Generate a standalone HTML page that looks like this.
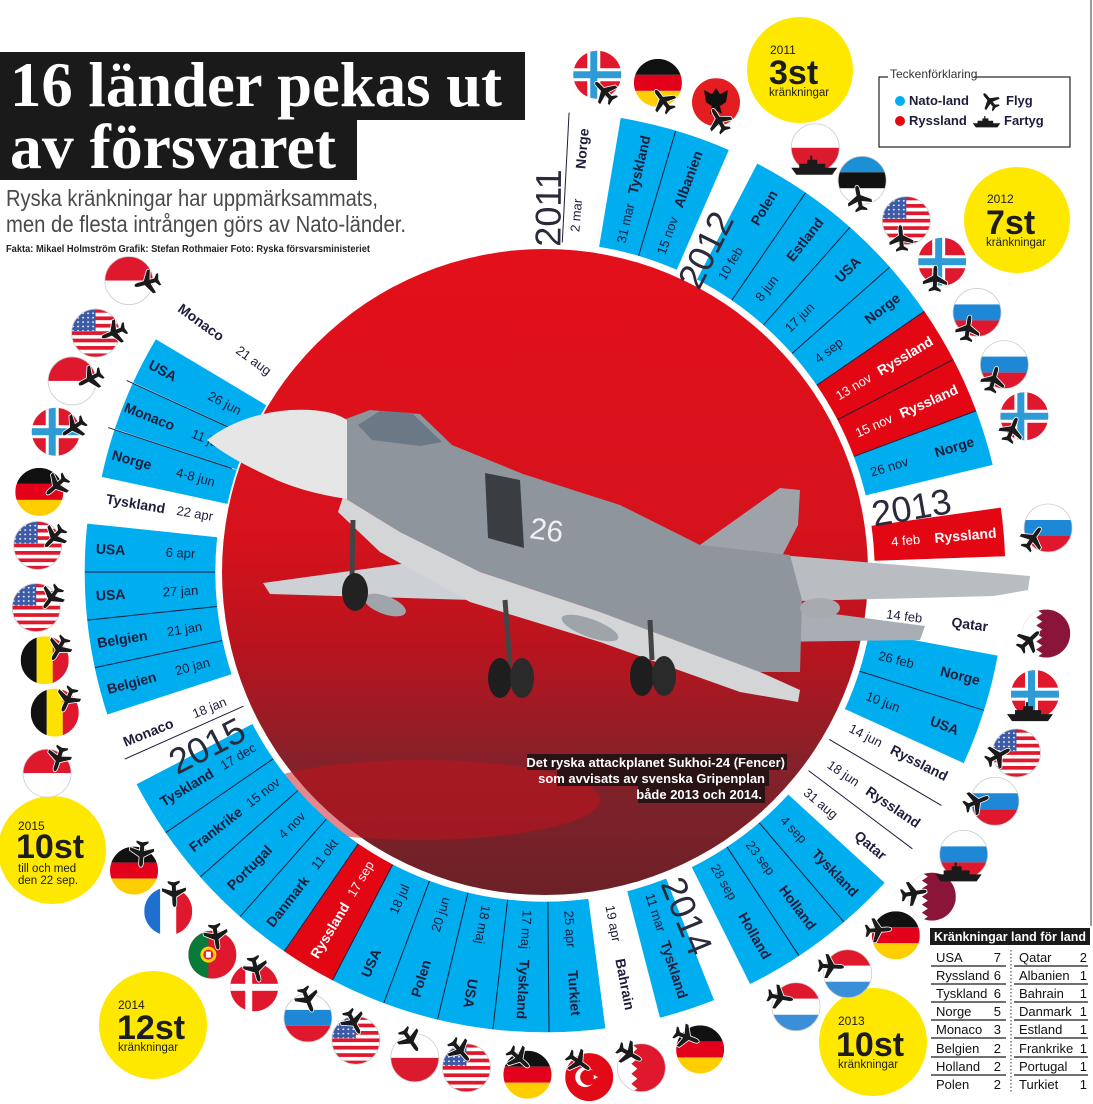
<!DOCTYPE html>
<html><head><meta charset="utf-8">
<style>
html,body{margin:0;padding:0;background:#fff;}
body{width:1093px;height:1104px;overflow:hidden;}
svg{display:block;}
.n{font-family:"Liberation Sans",sans-serif;font-weight:bold;font-size:14px;fill:#1d1d3b;text-anchor:middle;dominant-baseline:central;}
.d{font-family:"Liberation Sans Narrow","Liberation Sans",sans-serif;font-size:13px;fill:#1d1d3b;text-anchor:middle;dominant-baseline:central;}
.w{fill:#fff;}
.b{fill:#00adef;stroke:#00adef;stroke-width:.6;}
.r{fill:#e30613;stroke:#e30613;stroke-width:.6;}
.yr{font-family:"Liberation Sans Narrow","Liberation Sans",sans-serif;font-size:36px;fill:#2a2a3a;text-anchor:middle;dominant-baseline:central;font-weight:normal;}
.nar{font-family:"Liberation Sans Narrow","Liberation Sans",sans-serif;}
</style></head><body>
<svg width="1093" height="1104" viewBox="0 0 1093 1104" xmlns="http://www.w3.org/2000/svg">
<defs>
<clipPath id="fc"><circle r="24"/></clipPath>
<linearGradient id="sky" x1="0" y1="0" x2="0" y2="1">
<stop offset="0" stop-color="#e3101b"/><stop offset="0.45" stop-color="#d5121c"/><stop offset="0.62" stop-color="#b8141e"/><stop offset="0.8" stop-color="#84212a"/><stop offset="1" stop-color="#6c2127"/>
</linearGradient>
<path id="s7" d="M-20.15,-329.38 L-28.08,-459.14 A460,460 0 0 1 28.08,-459.14 L20.15,-329.38 A330,330 0 0 0 -20.15,-329.38Z"/>
<path id="s6" d="M-17.27,-329.55 L-24.07,-459.37 A460,460 0 0 1 24.07,-459.37 L17.27,-329.55 A330,330 0 0 0 -17.27,-329.55Z"/>
<line id="ln" x1="0" y1="-330" x2="0" y2="-460" stroke="#1d1d3b" stroke-width="1"/>
<path id="pl" d="M0,-13 C1.5,-13 2,-11 2,-8 L2,-3 L12,3 L12,6 L2,3 L2,8 L6,11 L6,13 L0,11.5 L-6,13 L-6,11 L-2,8 L-2,3 L-12,6 L-12,3 L-2,-3 L-2,-8 C-2,-11 -1.5,-13 0,-13Z" fill="#1a1a1a" stroke="#fff" stroke-width="1.6" paint-order="stroke"/>
<path id="sh" d="M-22,2 L24,2 L19,9 L-17,9Z M-14,2 L-14,-2 L-6,-2 L-6,-6 L-3,-6 L-3,-10 L-1,-10 L-1,-6 L4,-6 L4,-2 L12,-2 L12,2Z" fill="#1a1a1a"/>
<pattern id="stars" width="5" height="4.4" patternUnits="userSpaceOnUse"><rect width="5" height="4.4" fill="#3c5aa6"/><circle cx="2.5" cy="2.2" r="0.9" fill="#fff"/></pattern>
<g id="fNO"><g clip-path="url(#fc)"><rect x="-24" y="-24" width="48" height="48" fill="#e0182d"/><rect x="-10" y="-24" width="13" height="48" fill="#fff"/><rect x="-24" y="-6.5" width="48" height="13" fill="#fff"/><rect x="-7" y="-24" width="7" height="48" fill="#2f9bd6"/><rect x="-24" y="-3.5" width="48" height="7" fill="#2f9bd6"/></g></g>
<g id="fDE"><g clip-path="url(#fc)"><rect x="-24" y="-24" width="48" height="16" fill="#111"/><rect x="-24" y="-8" width="48" height="16" fill="#e2001a"/><rect x="-24" y="8" width="48" height="16" fill="#ffce00"/></g></g>
<g id="fAL"><g clip-path="url(#fc)"><rect x="-24" y="-24" width="48" height="48" fill="#e41e20"/><path d="M-12,-12 L-4,-8 L0,-14 L4,-8 L12,-12 L10,0 L4,4 L6,12 L0,8 L-6,12 L-4,4 L-10,0Z" fill="#111"/></g></g>
<g id="fPL"><g clip-path="url(#fc)"><rect x="-24" y="-24" width="48" height="24" fill="#fff"/><rect x="-24" y="0" width="48" height="24" fill="#dc1a2e"/></g><circle r="24" fill="none" stroke="#ccc" stroke-width=".8"/></g>
<g id="fEE"><g clip-path="url(#fc)"><rect x="-24" y="-24" width="48" height="16" fill="#1d8fd6"/><rect x="-24" y="-8" width="48" height="16" fill="#111"/><rect x="-24" y="8" width="48" height="16" fill="#fff"/></g><circle r="24" fill="none" stroke="#ccc" stroke-width=".8"/></g>
<g id="fUS"><g clip-path="url(#fc)"><rect x="-24" y="-24" width="48" height="48" fill="#fff"/><rect x="-24" y="-24" width="48" height="3.7" fill="#e0182d"/><rect x="-24" y="-16.6" width="48" height="3.7" fill="#e0182d"/><rect x="-24" y="-9.2" width="48" height="3.7" fill="#e0182d"/><rect x="-24" y="-1.8" width="48" height="3.7" fill="#e0182d"/><rect x="-24" y="5.6" width="48" height="3.7" fill="#e0182d"/><rect x="-24" y="13" width="48" height="3.7" fill="#e0182d"/><rect x="-24" y="20.4" width="48" height="3.7" fill="#e0182d"/><rect x="-24" y="-24" width="24" height="22" fill="url(#stars)"/></g><circle r="24" fill="none" stroke="#ccc" stroke-width=".8"/></g>
<g id="fRU"><g clip-path="url(#fc)"><rect x="-24" y="-24" width="48" height="16" fill="#fff"/><rect x="-24" y="-8" width="48" height="16" fill="#1e88d6"/><rect x="-24" y="8" width="48" height="16" fill="#e0182d"/></g><circle r="24" fill="none" stroke="#ccc" stroke-width=".8"/></g>
<g id="fQA"><g clip-path="url(#fc)"><rect x="-24" y="-24" width="48" height="48" fill="#8a1538"/><polygon points="-24,-24 -10,-24 -4,-20 -10,-16 -4,-12 -10,-8 -4,-4 -10,0 -4,4 -10,8 -4,12 -10,16 -4,20 -10,24 -24,24" fill="#fff"/></g></g>
<g id="fBH"><g clip-path="url(#fc)"><rect x="-24" y="-24" width="48" height="48" fill="#e0182d"/><polygon points="-24,-24 -10,-24 -4,-19 -10,-14 -4,-9 -10,-4 -4,1 -10,6 -4,11 -10,16 -4,21 -10,24 -24,24" fill="#fff"/></g><circle r="24" fill="none" stroke="#ccc" stroke-width=".8"/></g>
<g id="fNL"><g clip-path="url(#fc)"><rect x="-24" y="-24" width="48" height="16" fill="#e0182d"/><rect x="-24" y="-8" width="48" height="16" fill="#fff"/><rect x="-24" y="8" width="48" height="16" fill="#3a8fd8"/></g><circle r="24" fill="none" stroke="#ccc" stroke-width=".8"/></g>
<g id="fTR"><g clip-path="url(#fc)"><rect x="-24" y="-24" width="48" height="48" fill="#e30a17"/><circle cx="-4" cy="0" r="10" fill="#fff"/><circle cx="-1" cy="0" r="8" fill="#e30a17"/><polygon points="9,0 4,2 6,-3 6,3 4,-2" fill="#fff"/></g></g>
<g id="fDK"><g clip-path="url(#fc)"><rect x="-24" y="-24" width="48" height="48" fill="#e0182d"/><rect x="-9" y="-24" width="7" height="48" fill="#fff"/><rect x="-24" y="-3.5" width="48" height="7" fill="#fff"/></g></g>
<g id="fPT"><g clip-path="url(#fc)"><rect x="-24" y="-24" width="48" height="48" fill="#e0182d"/><rect x="-24" y="-24" width="20" height="48" fill="#0a7a3a"/><circle cx="-4" cy="0" r="8" fill="#ffd200"/><circle cx="-4" cy="0" r="5" fill="#e0182d"/><rect x="-6.5" y="-3" width="5" height="6" fill="#fff"/></g></g>
<g id="fFR"><g clip-path="url(#fc)"><rect x="-24" y="-24" width="16" height="48" fill="#1e6fd0"/><rect x="-8" y="-24" width="16" height="48" fill="#fff"/><rect x="8" y="-24" width="16" height="48" fill="#e0182d"/></g></g>
<g id="fMC"><g clip-path="url(#fc)"><rect x="-24" y="-24" width="48" height="24" fill="#e0182d"/><rect x="-24" y="0" width="48" height="24" fill="#fff"/></g><circle r="24" fill="none" stroke="#ccc" stroke-width=".8"/></g>
<g id="fBE"><g clip-path="url(#fc)"><rect x="-24" y="-24" width="16" height="48" fill="#111"/><rect x="-8" y="-24" width="16" height="48" fill="#fde100"/><rect x="8" y="-24" width="16" height="48" fill="#e0182d"/></g></g>
</defs>

<rect width="1093" height="1104" fill="#fff"/>
<line x1="1091" y1="0" x2="1091" y2="926" stroke="#9a9a9a" stroke-width="2"/>

<!-- Title -->
<rect x="0" y="52" width="525" height="68" fill="#1a1a1a"/>
<rect x="0" y="118" width="357" height="62" fill="#1a1a1a"/>
<text x="10" y="106" font-family="Liberation Serif,serif" font-weight="bold" font-size="64" fill="#fff" textLength="492" lengthAdjust="spacingAndGlyphs">16 länder pekas ut</text>
<text x="10" y="168" font-family="Liberation Serif,serif" font-weight="bold" font-size="64" fill="#fff" textLength="326" lengthAdjust="spacingAndGlyphs">av försvaret</text>
<text class="nar" x="6" y="206" font-size="23" fill="#4a4a4a" textLength="372" lengthAdjust="spacingAndGlyphs">Ryska kränkningar har uppmärksammats,</text>
<text class="nar" x="6" y="232" font-size="23" fill="#4a4a4a" textLength="400" lengthAdjust="spacingAndGlyphs">men de flesta intrången görs av Nato-länder.</text>
<text class="nar" x="6" y="252" font-size="10.5" fill="#222" font-weight="bold" textLength="364" lengthAdjust="spacingAndGlyphs">Fakta: Mikael Holmström  Grafik: Stefan Rothmaier Foto: Ryska försvarsministeriet</text>

<!-- Legend -->
<rect x="879" y="77" width="191" height="70" fill="none" stroke="#222" stroke-width="1.2"/>
<rect x="888" y="70" width="86" height="12" fill="#fff"/>
<text class="nar" x="890" y="78" font-size="12" fill="#333">Teckenförklaring</text>
<circle cx="900" cy="101" r="5" fill="#00adef"/>
<text x="909" y="105" font-family="Liberation Sans Narrow,Liberation Sans,sans-serif" font-weight="bold" font-size="13" fill="#1d1d3b">Nato-land</text>
<circle cx="900" cy="121" r="5" fill="#e30613"/>
<text x="909" y="125" font-family="Liberation Sans Narrow,Liberation Sans,sans-serif" font-weight="bold" font-size="13" fill="#1d1d3b">Ryssland</text>
<use href="#pl" transform="translate(990,101) rotate(-40) scale(0.75)"/>
<text x="1006" y="105" font-family="Liberation Sans Narrow,Liberation Sans,sans-serif" font-weight="bold" font-size="13" fill="#1d1d3b">Flyg</text>
<use href="#sh" transform="translate(986,122) scale(0.6)"/>
<text x="1004" y="125" font-family="Liberation Sans Narrow,Liberation Sans,sans-serif" font-weight="bold" font-size="13" fill="#1d1d3b">Fartyg</text>

<!-- Yellow circles -->
<g font-family="Liberation Sans Narrow,Liberation Sans,sans-serif" fill="#1d1d1d">
<circle cx="800" cy="70" r="53" fill="#ffe800"/>
<text x="770" y="54" font-size="12">2011</text>
<text x="769" y="84" font-size="34" font-weight="bold" font-family="Liberation Sans,sans-serif">3st</text>
<text x="769" y="96" font-size="11.5">kränkningar</text>
<circle cx="1017" cy="220" r="53" fill="#ffe800"/>
<text x="987" y="203" font-size="12">2012</text>
<text x="986" y="234" font-size="34" font-weight="bold" font-family="Liberation Sans,sans-serif">7st</text>
<text x="986" y="246" font-size="11.5">kränkningar</text>
<circle cx="52" cy="850" r="54" fill="#ffe800"/>
<text x="18" y="830" font-size="12">2015</text>
<text x="16" y="858" font-size="34" font-weight="bold" font-family="Liberation Sans,sans-serif">10st</text>
<text x="18" y="872" font-size="11.5">till och med</text>
<text x="18" y="884" font-size="11.5">den 22 sep.</text>
<circle cx="153" cy="1025" r="54" fill="#ffe800"/>
<text x="118" y="1009" font-size="12">2014</text>
<text x="117" y="1039" font-size="34" font-weight="bold" font-family="Liberation Sans,sans-serif">12st</text>
<text x="118" y="1051" font-size="11.5">kränkningar</text>
<circle cx="873" cy="1042" r="54" fill="#ffe800"/>
<text x="838" y="1025" font-size="12">2013</text>
<text x="836" y="1056" font-size="34" font-weight="bold" font-family="Liberation Sans,sans-serif">10st</text>
<text x="838" y="1068" font-size="11.5">kränkningar</text>
</g>

<!-- Photo circle -->
<circle cx="545" cy="572" r="323" fill="url(#sky)"/>
<ellipse cx="420" cy="800" rx="180" ry="40" fill="#c8121c" opacity="0.5"/>

<g transform="translate(545,572)">
<!-- 2011 -->
<g transform="rotate(5)"><text class="d" transform="translate(0,-358) rotate(-90)" font-size="11">2 mar</text><text class="n" transform="translate(0,-425) rotate(-90)">Norge</text></g>
<g transform="rotate(13)"><use href="#s7" class="b"/><text class="d" transform="translate(0,-358) rotate(-90)">31 mar</text><text class="n" transform="translate(0,-418) rotate(-90)">Tyskland</text></g>
<g transform="rotate(20)"><use href="#s7" class="b"/><text class="d" transform="translate(0,-358) rotate(-90)">15 nov</text><text class="n" transform="translate(0,-418) rotate(-90)">Albanien</text></g>
<!-- 2012 -->
<g transform="rotate(31)"><use href="#s7" class="b"/><text class="d" transform="translate(0,-360) rotate(-90)">10 feb</text><text class="n" transform="translate(0,-425) rotate(-90)">Polen</text></g>
<g transform="rotate(38)"><use href="#s7" class="b"/><text class="d" transform="translate(0,-360) rotate(-90)">8 jun</text><text class="n" transform="translate(0,-422) rotate(-90)">Estland</text></g>
<g transform="rotate(45)"><use href="#s7" class="b"/><text class="d" transform="translate(0,-360) rotate(-90)">17 jun</text><text class="n" transform="translate(0,-428) rotate(-90)">USA</text></g>
<g transform="rotate(52)"><use href="#s7" class="b"/><text class="d" transform="translate(0,-360) rotate(-90)">4 sep</text><text class="n" transform="translate(0,-428) rotate(-90)">Norge</text></g>
<g transform="rotate(59)"><use href="#s7" class="r"/><text class="d w" transform="translate(0,-360) rotate(-90)">13 nov</text><text class="n w" transform="translate(0,-420) rotate(-90)">Ryssland</text></g>
<g transform="rotate(66)"><use href="#s7" class="r"/><text class="d w" transform="translate(0,-360) rotate(-90)">15 nov</text><text class="n w" transform="translate(0,-420) rotate(-90)">Ryssland</text></g>
<g transform="rotate(73)"><use href="#s7" class="b"/><text class="d" transform="translate(0,-360) rotate(-90)">26 nov</text><text class="n" transform="translate(0,-428) rotate(-90)">Norge</text></g>
<!-- 2013 -->
<g transform="rotate(85)"><use href="#s6" class="r"/><text class="d w" transform="translate(0,-362) rotate(-90)">4 feb</text><text class="n w" transform="translate(0,-422) rotate(-90)">Ryssland</text></g>
<g transform="rotate(97)"><text class="d" transform="translate(0,-362) rotate(-90)">14 feb</text><text class="n" transform="translate(0,-428) rotate(-90)">Qatar</text></g>
<g transform="rotate(104)"><use href="#s7" class="b"/><text class="d" transform="translate(0,-362) rotate(-90)">26 feb</text><text class="n" transform="translate(0,-428) rotate(-90)">Norge</text></g>
<g transform="rotate(111)"><use href="#s7" class="b"/><text class="d" transform="translate(0,-362) rotate(-90)">10 jun</text><text class="n" transform="translate(0,-428) rotate(-90)">USA</text></g>
<g transform="rotate(117)"><text class="d" transform="translate(0,-360) rotate(-90)">14 jun</text><text class="n" transform="translate(0,-420) rotate(-90)">Ryssland</text></g>
<g transform="rotate(124)"><text class="d" transform="translate(0,-360) rotate(-90)">18 jun</text><text class="n" transform="translate(0,-420) rotate(-90)">Ryssland</text></g>
<g transform="rotate(130)"><text class="d" transform="translate(0,-360) rotate(-90)">31 aug</text><text class="n" transform="translate(0,-425) rotate(-90)">Qatar</text></g>
<g transform="rotate(136)"><use href="#s7" class="b"/><text class="d" transform="translate(0,-358) rotate(-90)">4 sep</text><text class="n" transform="translate(0,-418) rotate(-90)">Tyskland</text></g>
<g transform="rotate(143)"><use href="#s7" class="b"/><text class="d" transform="translate(0,-358) rotate(-90)">23 sep</text><text class="n" transform="translate(0,-420) rotate(-90)">Holland</text></g>
<g transform="rotate(150)"><use href="#s7" class="b"/><text class="d" transform="translate(0,-358) rotate(-90)">28 sep</text><text class="n" transform="translate(0,-420) rotate(-90)">Holland</text></g>
<!-- 2014 -->
<g transform="rotate(162)"><use href="#s7" class="b"/><text class="d" transform="translate(0,-358) rotate(-90)">11 mar</text><text class="n" transform="translate(0,-418) rotate(-90)">Tyskland</text></g>
<g transform="rotate(169)"><text class="d" transform="translate(0,-358) rotate(-90)">19 apr</text><text class="n" transform="translate(0,-420) rotate(-90)">Bahrain</text></g>
<g transform="rotate(176)"><use href="#s7" class="b"/><text class="d" transform="translate(0,-358) rotate(-90)">25 apr</text><text class="n" transform="translate(0,-422) rotate(-90)">Turkiet</text></g>
<g transform="rotate(183)"><use href="#s7" class="b"/><text class="d" transform="translate(0,-358) rotate(-90)">17 maj</text><text class="n" transform="translate(0,-418) rotate(-90)">Tyskland</text></g>
<g transform="rotate(190)"><use href="#s7" class="b"/><text class="d" transform="translate(0,-358) rotate(-90)">18 maj</text><text class="n" transform="translate(0,-428) rotate(-90)">USA</text></g>
<g transform="rotate(197)"><use href="#s7" class="b"/><text class="d" transform="translate(0,-358) rotate(90)">20 jun</text><text class="n" transform="translate(0,-425) rotate(90)">Polen</text></g>
<g transform="rotate(204)"><use href="#s7" class="b"/><text class="d" transform="translate(0,-358) rotate(90)">18 jul</text><text class="n" transform="translate(0,-428) rotate(90)">USA</text></g>
<!-- 2015 -->
<g transform="rotate(211)"><use href="#s7" class="r"/><text class="d w" transform="translate(0,-358) rotate(90)">17 sep</text><text class="n w" transform="translate(0,-418) rotate(90)">Ryssland</text></g>
<g transform="rotate(218)"><use href="#s7" class="b"/><text class="d" transform="translate(0,-358) rotate(90)">11 okt</text><text class="n" transform="translate(0,-418) rotate(90)">Danmark</text></g>
<g transform="rotate(225)"><use href="#s7" class="b"/><text class="d" transform="translate(0,-358) rotate(90)">4 nov</text><text class="n" transform="translate(0,-418) rotate(90)">Portugal</text></g>
<g transform="rotate(232)"><use href="#s7" class="b"/><text class="d" transform="translate(0,-358) rotate(90)">15 nov</text><text class="n" transform="translate(0,-418) rotate(90)">Frankrike</text></g>
<g transform="rotate(239)"><use href="#s7" class="b"/><text class="d" transform="translate(0,-358) rotate(90)">17 dec</text><text class="n" transform="translate(0,-418) rotate(90)">Tyskland</text></g>
<g transform="rotate(248)"><text class="d" transform="translate(0,-362) rotate(90)">18 jan</text><text class="n" transform="translate(0,-428) rotate(90)">Monaco</text></g>
<g transform="rotate(255)"><use href="#s6" class="b"/><text class="d" transform="translate(0,-365) rotate(90)">20 jan</text><text class="n" transform="translate(0,-428) rotate(90)">Belgien</text></g>
<g transform="rotate(261)"><use href="#s6" class="b"/><text class="d" transform="translate(0,-365) rotate(90)">21 jan</text><text class="n" transform="translate(0,-428) rotate(90)">Belgien</text></g>
<g transform="rotate(267)"><use href="#s6" class="b"/><text class="d" transform="translate(0,-365) rotate(90)">27 jan</text><text class="n" transform="translate(0,-435) rotate(90)">USA</text></g>
<g transform="rotate(273)"><use href="#s6" class="b"/><text class="d" transform="translate(0,-365) rotate(90)">6 apr</text><text class="n" transform="translate(0,-435) rotate(90)">USA</text></g>
<g transform="rotate(279.5)"><text class="d" transform="translate(0,-355) rotate(90)">22 apr</text><text class="n" transform="translate(0,-415) rotate(90)">Tyskland</text></g>
<g transform="rotate(285.2)"><use href="#s6" class="b" transform="scale(1,0.985)"/><text class="d" transform="translate(0,-362) rotate(90)">4-8 jun</text><text class="n" transform="translate(0,-428) rotate(90)">Norge</text></g>
<g transform="rotate(291.5)"><use href="#s6" class="b" transform="scale(1,0.985)"/><text class="d" transform="translate(0,-362) rotate(90)">11 jun</text><text class="n" transform="translate(0,-425) rotate(90)">Monaco</text></g>
<g transform="rotate(297.8)"><use href="#s6" class="b" transform="scale(1,0.985)"/><text class="d" transform="translate(0,-362) rotate(90)">26 jun</text><text class="n" transform="translate(0,-432) rotate(90)">USA</text></g>
<g transform="rotate(306)"><text class="d" transform="translate(0,-360) rotate(90)">21 aug</text><text class="n" transform="translate(0,-425) rotate(90)">Monaco</text></g>

<!-- separators -->
<g>
<use href="#ln" transform="rotate(16.5)"/>
<use href="#ln" transform="rotate(34.5)"/><use href="#ln" transform="rotate(41.5)"/><use href="#ln" transform="rotate(48.5)"/><use href="#ln" transform="rotate(55.5)"/><use href="#ln" transform="rotate(62.5)"/><use href="#ln" transform="rotate(69.5)"/>
<use href="#ln" transform="rotate(107.5)"/><use href="#ln" transform="rotate(120.5)"/><use href="#ln" transform="rotate(127)"/>
<use href="#ln" transform="rotate(139.5)"/><use href="#ln" transform="rotate(146.5)"/>
<use href="#ln" transform="rotate(179.5)"/><use href="#ln" transform="rotate(186.5)"/><use href="#ln" transform="rotate(193.5)"/><use href="#ln" transform="rotate(200.5)"/><use href="#ln" transform="rotate(207.5)"/><use href="#ln" transform="rotate(214.5)"/><use href="#ln" transform="rotate(221.5)"/><use href="#ln" transform="rotate(228.5)"/><use href="#ln" transform="rotate(235.5)"/>
<use href="#ln" transform="rotate(258)"/><use href="#ln" transform="rotate(264)"/><use href="#ln" transform="rotate(270)"/>
<use href="#ln" transform="rotate(288.3)"/><use href="#ln" transform="rotate(294.6)"/>
<use href="#ln" transform="rotate(3)"/>
<use href="#ln" transform="rotate(246)"/>
</g>

<!-- year labels -->
<text class="yr" transform="rotate(0.5) translate(0,-364) rotate(-90)">2011</text>
<text class="yr" transform="rotate(26.5) translate(0,-360) rotate(-90)">2012</text>
<text class="yr" transform="rotate(80) translate(0,-372) rotate(-90)">2013</text>
<text class="yr" transform="rotate(157.6) translate(0,-372) rotate(-90)">2014</text>
<text class="yr" transform="rotate(242.8) translate(0,-380) rotate(90)">2015</text>

<!-- flags -->
<g>
<g transform="rotate(6) translate(0,-500) rotate(-6)"><use href="#fNO"/></g>
<g transform="rotate(13) translate(0,-502) rotate(-13)"><use href="#fDE"/></g>
<g transform="rotate(20) translate(0,-500) rotate(-20)"><use href="#fAL"/></g>
<g transform="rotate(32.5) translate(0,-503) rotate(-32.5)"><use href="#fPL"/></g>
<g transform="rotate(39) translate(0,-504) rotate(-39)"><use href="#fEE"/></g>
<g transform="rotate(45.8) translate(0,-504) rotate(-45.8)"><use href="#fUS"/></g>
<g transform="rotate(52) translate(0,-504) rotate(-52)"><use href="#fNO"/></g>
<g transform="rotate(59) translate(0,-504) rotate(-59)"><use href="#fRU"/></g>
<g transform="rotate(65.7) translate(0,-504) rotate(-65.7)"><use href="#fRU"/></g>
<g transform="rotate(72) translate(0,-504) rotate(-72)"><use href="#fNO"/></g>
<g transform="rotate(85) translate(0,-505) rotate(-85)"><use href="#fRU"/></g>
<g transform="rotate(97) translate(0,-505) rotate(-97)"><use href="#fQA"/></g>
<g transform="rotate(104) translate(0,-505) rotate(-104)"><use href="#fNO"/></g>
<g transform="rotate(111) translate(0,-505) rotate(-111)"><use href="#fUS"/></g>
<g transform="rotate(117) translate(0,-505) rotate(-117)"><use href="#fRU"/></g>
<g transform="rotate(124) translate(0,-505) rotate(-124)"><use href="#fRU"/></g>
<g transform="rotate(130) translate(0,-505) rotate(-130)"><use href="#fQA"/></g>
<g transform="rotate(136) translate(0,-505) rotate(-136)"><use href="#fDE"/></g>
<g transform="rotate(143) translate(0,-503) rotate(-143)"><use href="#fNL"/></g>
<g transform="rotate(150) translate(0,-502) rotate(-150)"><use href="#fNL"/></g>
<g transform="rotate(162) translate(0,-502) rotate(-162)"><use href="#fDE"/></g>
<g transform="rotate(169) translate(0,-505) rotate(-169)"><use href="#fBH"/></g>
<g transform="rotate(175) translate(0,-507) rotate(-175)"><use href="#fTR"/></g>
<g transform="rotate(182) translate(0,-503) rotate(-182)"><use href="#fDE"/></g>
<g transform="rotate(189) translate(0,-502) rotate(-189)"><use href="#fUS"/></g>
<g transform="rotate(195) translate(0,-503) rotate(-195)"><use href="#fPL"/></g>
<g transform="rotate(202) translate(0,-505) rotate(-202)"><use href="#fUS"/></g>
<g transform="rotate(208) translate(0,-505) rotate(-208)"><use href="#fRU"/></g>
<g transform="rotate(215) translate(0,-507) rotate(-215)"><use href="#fDK"/></g>
<g transform="rotate(221) translate(0,-507) rotate(-221)"><use href="#fPT"/></g>
<g transform="rotate(228) translate(0,-507) rotate(-228)"><use href="#fFR"/></g>
<g transform="rotate(234) translate(0,-508) rotate(-234)"><use href="#fDE"/></g>
<g transform="rotate(248) translate(0,-537) rotate(-248)"><use href="#fMC"/></g>
<g transform="rotate(254) translate(0,-510) rotate(-254)"><use href="#fBE"/></g>
<g transform="rotate(260) translate(0,-508) rotate(-260)"><use href="#fBE"/></g>
<g transform="rotate(266) translate(0,-510) rotate(-266)"><use href="#fUS"/></g>
<g transform="rotate(273) translate(0,-508) rotate(-273)"><use href="#fUS"/></g>
<g transform="rotate(279) translate(0,-512) rotate(-279)"><use href="#fDE"/></g>
<g transform="rotate(286) translate(0,-509) rotate(-286)"><use href="#fNO"/></g>
<g transform="rotate(292) translate(0,-510) rotate(-292)"><use href="#fMC"/></g>
<g transform="rotate(298) translate(0,-509) rotate(-298)"><use href="#fUS"/></g>
<g transform="rotate(305) translate(0,-508) rotate(-305)"><use href="#fMC"/></g>
</g>
<!-- icons -->
<g>
<g transform="rotate(6) translate(9,-484) rotate(-50)"><use href="#pl"/></g>
<g transform="rotate(13) translate(9,-486) rotate(-50)"><use href="#pl"/></g>
<g transform="rotate(20) translate(9,-484) rotate(-50)"><use href="#pl"/></g>
<g transform="rotate(32.5) translate(0,-503) rotate(-32.5) translate(-2,18)"><use href="#sh"/></g>
<g transform="rotate(39) translate(9,-488) rotate(-50)"><use href="#pl"/></g>
<g transform="rotate(45.8) translate(9,-488) rotate(-50)"><use href="#pl"/></g>
<g transform="rotate(52) translate(9,-488) rotate(-50)"><use href="#pl"/></g>
<g transform="rotate(59) translate(9,-488) rotate(-50)"><use href="#pl"/></g>
<g transform="rotate(65.7) translate(9,-488) rotate(-50)"><use href="#pl"/></g>
<g transform="rotate(72) translate(9,-488) rotate(-50)"><use href="#pl"/></g>
<g transform="rotate(85) translate(9,-489) rotate(-50)"><use href="#pl"/></g>
<g transform="rotate(97) translate(9,-489) rotate(-50)"><use href="#pl"/></g>
<g transform="rotate(104) translate(0,-505) rotate(-104) translate(-6,18)"><use href="#sh"/></g>
<g transform="rotate(111) translate(9,-489) rotate(-50)"><use href="#pl"/></g>
<g transform="rotate(117) translate(9,-489) rotate(-50)"><use href="#pl"/></g>
<g transform="rotate(124) translate(0,-505) rotate(-124) translate(-6,18)"><use href="#sh"/></g>
<g transform="rotate(130) translate(9,-489) rotate(-50)"><use href="#pl"/></g>
<g transform="rotate(136) translate(9,-489) rotate(-50)"><use href="#pl"/></g>
<g transform="rotate(143) translate(9,-487) rotate(-50)"><use href="#pl"/></g>
<g transform="rotate(150) translate(9,-486) rotate(-50)"><use href="#pl"/></g>
<g transform="rotate(162) translate(9,-486) rotate(-50)"><use href="#pl"/></g>
<g transform="rotate(169) translate(9,-489) rotate(-50)"><use href="#pl"/></g>
<g transform="rotate(175) translate(9,-491) rotate(-50)"><use href="#pl"/></g>
<g transform="rotate(182) translate(9,-487) rotate(-50)"><use href="#pl"/></g>
<g transform="rotate(189) translate(9,-486) rotate(-50)"><use href="#pl"/></g>
<g transform="rotate(195) translate(9,-487) rotate(-50)"><use href="#pl"/></g>
<g transform="rotate(202) translate(9,-489) rotate(-50)"><use href="#pl"/></g>
<g transform="rotate(208) translate(9,-489) rotate(-50)"><use href="#pl"/></g>
<g transform="rotate(215) translate(9,-491) rotate(-50)"><use href="#pl"/></g>
<g transform="rotate(221) translate(9,-491) rotate(-50)"><use href="#pl"/></g>
<g transform="rotate(228) translate(9,-491) rotate(-50)"><use href="#pl"/></g>
<g transform="rotate(234) translate(9,-492) rotate(-50)"><use href="#pl"/></g>
<g transform="rotate(248) translate(9,-521) rotate(-50)"><use href="#pl"/></g>
<g transform="rotate(254) translate(9,-494) rotate(-50)"><use href="#pl"/></g>
<g transform="rotate(260) translate(9,-492) rotate(-50)"><use href="#pl"/></g>
<g transform="rotate(266) translate(9,-494) rotate(-50)"><use href="#pl"/></g>
<g transform="rotate(273) translate(9,-492) rotate(-50)"><use href="#pl"/></g>
<g transform="rotate(279) translate(9,-496) rotate(-50)"><use href="#pl"/></g>
<g transform="rotate(286) translate(9,-493) rotate(-50)"><use href="#pl"/></g>
<g transform="rotate(292) translate(9,-494) rotate(-50)"><use href="#pl"/></g>
<g transform="rotate(298) translate(9,-493) rotate(-50)"><use href="#pl"/></g>
<g transform="rotate(305) translate(9,-492) rotate(-50)"><use href="#pl"/></g>
</g>
</g>

<!-- Jet -->
<g>
<polygon points="263,583 430,560 472,600 270,594" fill="#cdd0d4"/>
<polygon points="697,548 1030,576 1028,590 994,596 760,602 720,592" fill="#b9bdc2"/>
<polygon points="729,600 925,626 920,640 760,642" fill="#a9aeb4"/>
<polygon points="690,552 780,488 800,490 798,525 782,556" fill="#9ea3a9"/>
<polygon points="343,420 370,410 420,414 452,445 523,474 620,505 700,545 790,555 802,600 800,672 760,672 600,612 480,572 400,532 343,497" fill="#8f959c"/>
<polygon points="343,497 400,532 480,572 600,612 760,672 800,690 798,702 740,692 600,642 470,602 380,552 338,512" fill="#d4d5d6"/>
<path d="M207,440 Q240,414 290,410 Q330,408 347,420 L347,499 Q300,492 268,476 Q225,456 207,440Z" fill="#e6e6e6"/>
<polygon points="358,425 380,411 412,413 442,442 420,446 372,440" fill="#6b7987"/>
<polygon points="485,473 520,480 524,548 488,538" fill="#3a3d42"/>
<text x="530" y="540" font-family="Liberation Sans,sans-serif" font-size="30" fill="#eef0f2" transform="rotate(8 545 530)">26</text>
<ellipse cx="590" cy="628" rx="30" ry="9" fill="#9fa4aa" transform="rotate(20 590 628)"/>
<ellipse cx="820" cy="608" rx="20" ry="10" fill="#a7abb0"/>
<ellipse cx="385" cy="605" rx="22" ry="9" fill="#a0a5ab" transform="rotate(20 385 605)"/>
<line x1="353" y1="520" x2="352" y2="580" stroke="#444" stroke-width="5"/>
<ellipse cx="355" cy="592" rx="13" ry="19" fill="#222"/>
<line x1="505" y1="600" x2="510" y2="665" stroke="#444" stroke-width="5"/>
<ellipse cx="500" cy="678" rx="12" ry="20" fill="#1e1e1e"/>
<ellipse cx="522" cy="678" rx="12" ry="20" fill="#2a2a2a"/>
<line x1="650" y1="620" x2="652" y2="660" stroke="#444" stroke-width="5"/>
<ellipse cx="642" cy="676" rx="12" ry="20" fill="#1e1e1e"/>
<ellipse cx="664" cy="676" rx="12" ry="20" fill="#2a2a2a"/>
</g>

<!-- Caption -->
<g font-family="Liberation Sans Narrow,Liberation Sans,sans-serif" font-weight="bold" font-size="13" fill="#fff" text-anchor="end">
<rect x="527" y="754" width="260" height="16" fill="#2a1315"/>
<rect x="557" y="770" width="212" height="16" fill="#2a1315"/>
<rect x="638" y="786" width="127" height="17" fill="#2a1315"/>
<text x="785" y="767">Det ryska attackplanet Sukhoi-24 (Fencer)</text>
<text x="765" y="783">som avvisats av svenska Gripenplan</text>
<text x="762" y="799">både 2013 och 2014.</text>
</g>

<!-- Table -->
<g font-family="Liberation Sans Narrow,Liberation Sans,sans-serif" font-size="13" fill="#111">
<rect x="930" y="928" width="160" height="17" fill="#1a1a1a"/>
<text x="934" y="941" fill="#fff" font-weight="bold" textLength="152" lengthAdjust="spacingAndGlyphs">Kränkningar land för land</text>
<g stroke="#1a1a1a" stroke-width="1.3">
<line x1="931" y1="966" x2="1006" y2="966"/><line x1="931" y1="984" x2="1006" y2="984"/><line x1="931" y1="1002" x2="1006" y2="1002"/><line x1="931" y1="1020" x2="1006" y2="1020"/><line x1="931" y1="1038" x2="1006" y2="1038"/><line x1="931" y1="1057" x2="1006" y2="1057"/><line x1="931" y1="1075" x2="1006" y2="1075"/>
<line x1="1014" y1="966" x2="1088" y2="966"/><line x1="1014" y1="984" x2="1088" y2="984"/><line x1="1014" y1="1002" x2="1088" y2="1002"/><line x1="1014" y1="1020" x2="1088" y2="1020"/><line x1="1014" y1="1038" x2="1088" y2="1038"/><line x1="1014" y1="1057" x2="1088" y2="1057"/><line x1="1014" y1="1075" x2="1088" y2="1075"/>
</g>
<line x1="1011" y1="950" x2="1011" y2="1092" stroke="#333" stroke-width="1" stroke-dasharray="1.5,2"/>
<text x="936" y="962">USA</text><text x="1001" y="962" text-anchor="end">7</text>
<text x="936" y="980">Ryssland</text><text x="1001" y="980" text-anchor="end">6</text>
<text x="936" y="998">Tyskland</text><text x="1001" y="998" text-anchor="end">6</text>
<text x="936" y="1016">Norge</text><text x="1001" y="1016" text-anchor="end">5</text>
<text x="936" y="1034">Monaco</text><text x="1001" y="1034" text-anchor="end">3</text>
<text x="936" y="1053">Belgien</text><text x="1001" y="1053" text-anchor="end">2</text>
<text x="936" y="1071">Holland</text><text x="1001" y="1071" text-anchor="end">2</text>
<text x="936" y="1089">Polen</text><text x="1001" y="1089" text-anchor="end">2</text>
<text x="1019" y="962">Qatar</text><text x="1087" y="962" text-anchor="end">2</text>
<text x="1019" y="980">Albanien</text><text x="1087" y="980" text-anchor="end">1</text>
<text x="1019" y="998">Bahrain</text><text x="1087" y="998" text-anchor="end">1</text>
<text x="1019" y="1016">Danmark</text><text x="1087" y="1016" text-anchor="end">1</text>
<text x="1019" y="1034">Estland</text><text x="1087" y="1034" text-anchor="end">1</text>
<text x="1019" y="1053">Frankrike</text><text x="1087" y="1053" text-anchor="end">1</text>
<text x="1019" y="1071">Portugal</text><text x="1087" y="1071" text-anchor="end">1</text>
<text x="1019" y="1089">Turkiet</text><text x="1087" y="1089" text-anchor="end">1</text>
</g>
</svg>
</body></html>
